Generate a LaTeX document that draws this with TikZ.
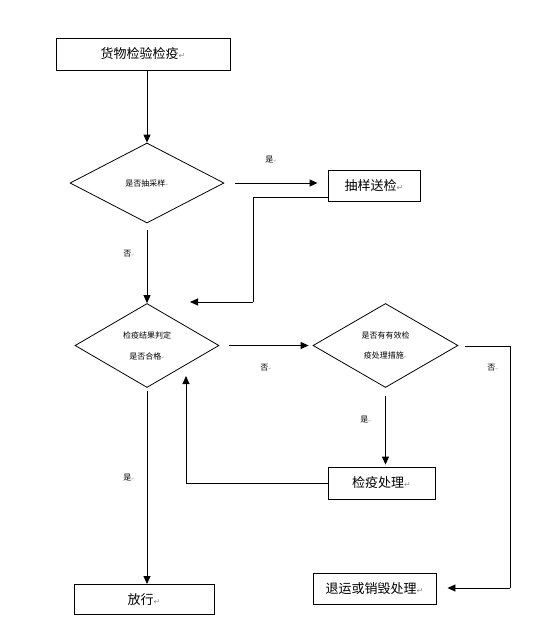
\documentclass[tikz,border=0pt]{standalone}
\usepackage{fontspec}
\setmainfont{Noto Sans CJK SC}
\newfontfamily\symfont{DejaVu Sans}
\usetikzlibrary{shapes.geometric,arrows.meta}
\newcommand{\pmark}{{\symfont\color{black!45}\scalebox{0.6}{↵}}}
\newcommand{\smark}{{\symfont\color{black!45}\scalebox{0.45}{↵}}}
\tikzset{
  box/.style={draw, line width=0.9pt, rectangle, inner sep=0pt, font=\fontsize{13}{15}\selectfont},
  dia/.style={draw, line width=0.8pt, diamond, inner sep=0pt, align=center, font=\fontsize{8}{10}\selectfont},
  lab/.style={font=\fontsize{8}{10}\selectfont, inner sep=0pt},
  arr/.style={line width=0.9pt, -{Triangle[length=8pt,width=7pt]}},
  ln/.style={line width=0.9pt},
}
\begin{document}
\begin{tikzpicture}[x=1pt,y=-1pt]
\useasboundingbox[fill=white] (0,0) rectangle (535,630);
% boxes
\node[box, minimum width=174pt, minimum height=32pt] (b1) at (143,54) {货物检验检疫\pmark};
\node[box, minimum width=92pt, minimum height=31pt] (b2) at (374,185.5) {抽样送检\pmark};
\node[box, minimum width=107pt, minimum height=32pt] (b4) at (381.5,483) {检疫处理\pmark};
\node[box, minimum width=140pt, minimum height=30pt] (b5) at (144,599.5) {放行\pmark};
\node[box, minimum width=123pt, minimum height=31pt] (b6) at (374.5,588.5) {退运或销毁处理\pmark};
% diamonds
\node[dia, minimum width=154pt, minimum height=80pt] (d1) at (147,183) {是否抽采样\smark};
\node[dia, minimum width=144pt, minimum height=84pt] (d2) at (147,345.5) {检疫结果判定\\[11pt]是否合格\smark};
\node[dia, minimum width=145pt, minimum height=84pt] (d3) at (385.5,345.5) {是否有有效检\\[10pt]疫处理措施\smark};
% free points
\coordinate (r1) at (253,197);
\coordinate (r2) at (253,302);
\coordinate (t2) at (190,302);
\coordinate (s1) at (465,346);
\coordinate (s2) at (510,346);
\coordinate (s3) at (510,588);
\coordinate (q1) at (186,483);
\coordinate (q2) at (186,376);
% connectors
\draw[arr] (d1.north |- b1.south) -- (d1.north);
\draw[arr, shorten <=11pt, shorten >=10pt] (d1.east) -- (b2.west |- d1.east);
\draw[ln] (b2.west |- r1) -- (r1) -- (r2);
\draw[arr] (r2) -- (t2);
\draw[arr, shorten <=7pt] (d1.south) -- (d2.north);
\draw[arr, shorten <=10pt, shorten >=4pt] (d2.east) -- (d3.west |- d2.east);
\draw[ln] (s1) -- (s2) -- (s3);
\draw[arr, shorten >=11pt] (s3) -- (b6.east |- s3);
\draw[arr, shorten <=8pt, shorten >=2pt] (d3.south) -- (d3.south |- b4.north);
\draw[ln] (b4.west) -- (q1);
\draw[arr] (q1) -- (q2);
\draw[arr, shorten <=3pt] (d2.south) -- (d2.south |- b5.north);
% labels
\node[lab] (l1) at (271,160) {是\smark};
\node[lab] (l2) at (129,254) {否\smark};
\node[lab] (l3) at (266,368) {否\smark};
\node[lab] (l4) at (493,368) {否\smark};
\node[lab] (l5) at (366,420) {是\smark};
\node[lab] (l6) at (129,478) {是\smark};
\end{tikzpicture}
\end{document}
